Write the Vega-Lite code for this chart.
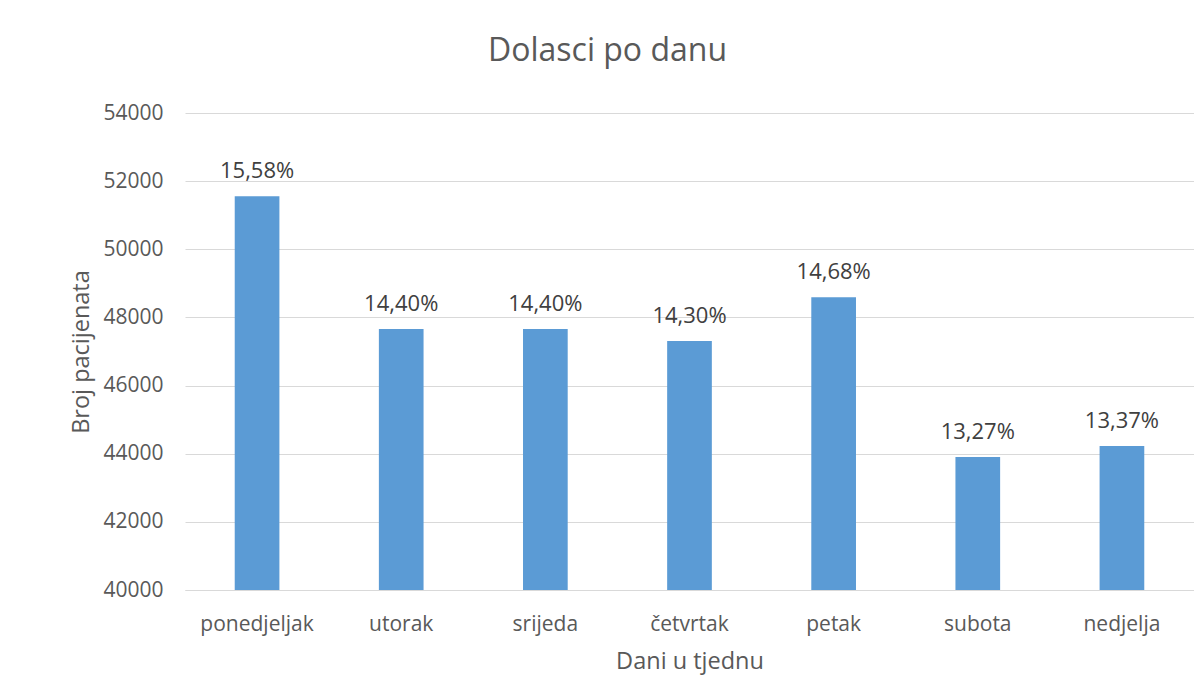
{
  "$schema": "https://vega.github.io/schema/vega-lite/v6.json",
  "autosize": {"type": "none"},
  "padding": {"left": 185, "top": 113, "right": 0, "bottom": 110},
  "width": 1009,
  "height": 477,
  "background": "white",
  "title": {
    "text": "Dolasci po danu",
    "anchor": "middle",
    "frame": "group",
    "font": "Open Sans",
    "fontSize": 32,
    "fontWeight": "normal",
    "color": "#595959",
    "baseline": "alphabetic",
    "offset": 9,
    "dx": -82
  },
  "config": {
    "view": {"stroke": null},
    "font": "Open Sans"
  },
  "data": {
    "values": [
      {"dan": "ponedjeljak", "broj": 51560, "postotak": "15,58%"},
      {"dan": "utorak", "broj": 47660, "postotak": "14,40%"},
      {"dan": "srijeda", "broj": 47660, "postotak": "14,40%"},
      {"dan": "četvrtak", "broj": 47310, "postotak": "14,30%"},
      {"dan": "petak", "broj": 48590, "postotak": "14,68%"},
      {"dan": "subota", "broj": 43900, "postotak": "13,27%"},
      {"dan": "nedjelja", "broj": 44230, "postotak": "13,37%"}
    ]
  },
  "encoding": {
    "x": {
      "field": "dan",
      "type": "nominal",
      "sort": null,
      "scale": {"paddingInner": 0.69, "paddingOuter": 0.345},
      "axis": {
        "title": "Dani u tjednu",
        "labelAngle": 0,
        "ticks": false,
        "domainColor": "#d9d9d9",
        "domainWidth": 1,
        "labelFont": "Open Sans",
        "labelFontSize": 21,
        "labelColor": "#595959",
        "labelBaseline": "alphabetic",
        "labelPadding": 40,
        "titleFont": "Open Sans",
        "titleFontSize": 23.5,
        "titleFontWeight": "normal",
        "titleColor": "#595959",
        "titleBaseline": "alphabetic",
        "titleY": 78,
        "titleX": 504.5,
        "titleAlign": "center"
      }
    },
    "y": {
      "field": "broj",
      "type": "quantitative",
      "scale": {"domain": [40000, 54000], "nice": false, "zero": false},
      "axis": {
        "title": "Broj pacijenata",
        "values": [40000, 42000, 44000, 46000, 48000, 50000, 52000, 54000],
        "format": "d",
        "ticks": false,
        "domain": false,
        "gridColor": "#d9d9d9",
        "gridWidth": 1,
        "labelFont": "Open Sans",
        "labelFontSize": 21,
        "labelColor": "#595959",
        "labelPadding": 22,
        "titleFont": "Open Sans",
        "titleFontSize": 23.5,
        "titleFontWeight": "normal",
        "titleColor": "#595959",
        "titleAngle": -90,
        "titleBaseline": "alphabetic",
        "titleAlign": "center",
        "titleX": -97,
        "titleY": 238.5
      }
    }
  },
  "layer": [
    {"mark": {"type": "bar", "color": "#5b9bd5", "clip": true}},
    {
      "mark": {
        "type": "text",
        "font": "Open Sans",
        "fontSize": 22,
        "color": "#404040",
        "baseline": "alphabetic",
        "dy": -18
      },
      "encoding": {"text": {"field": "postotak"}}
    }
  ]
}
